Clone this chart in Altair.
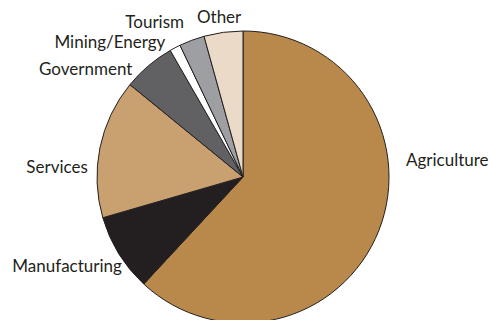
import altair as alt
import pandas as pd

sectors = ["Agriculture", "Manufacturing", "Services", "Government", "Mining/Energy", "Tourism", "Other"]
shares = [61.9, 8.6, 15.4, 5.8, 1.2, 2.8, 4.3]
colors = ["#b8894b", "#231f20", "#c9a171", "#616163", "#ffffff", "#9d9fa2", "#eadac7"]

df = pd.DataFrame({"sector": sectors, "share": shares, "idx": list(range(len(sectors)))})

base = alt.Chart()

pie = base.mark_arc(outerRadius=146, stroke="#231f20", strokeWidth=1).encode(
    theta=alt.Theta("start:Q", scale=alt.Scale(domain=[0, 100])),
    theta2="end:Q",
    color=alt.Color("sector:N", scale=alt.Scale(domain=sectors, range=colors), legend=None),
)

# label offsets (style tweaks) per sector
offsets = {
    "Agriculture": (60, -73),
    "Manufacturing": (-44, 9),
    "Services": (-34, 22),
    "Government": (-57, 11),
    "Mining/Energy": (-61, 3),
    "Tourism": (-34, -9),
    "Other": (-3, -5),
}

layers = [pie]
for s in sectors:
    dx, dy = offsets[s]
    layers.append(
        base.transform_filter(alt.datum.sector == s).mark_text(
            radius=155, dx=dx, dy=dy, font="Lato", fontSize=17, color="#231f20",
            align="center", baseline="middle"
        ).encode(
            theta=alt.Theta("mid:Q", scale=alt.Scale(domain=[0, 100])),
            text="sector:N",
        )
    )

chart = alt.layer(*layers, data=df).transform_window(
    end="sum(share)", sort=[alt.SortField("idx")], frame=[None, 0]
).transform_calculate(
    start="datum.end - datum.share",
    mid="datum.end - datum.share / 2",
).properties(
    width=486, height=354, autosize=alt.AutoSizeParams(type="none"),
    padding={"left": 0, "top": 0, "right": 6, "bottom": 0},
).configure_view(stroke=None).configure(background="white")

chart.save("out.html", embed_options={"renderer": "svg", "actions": False})
